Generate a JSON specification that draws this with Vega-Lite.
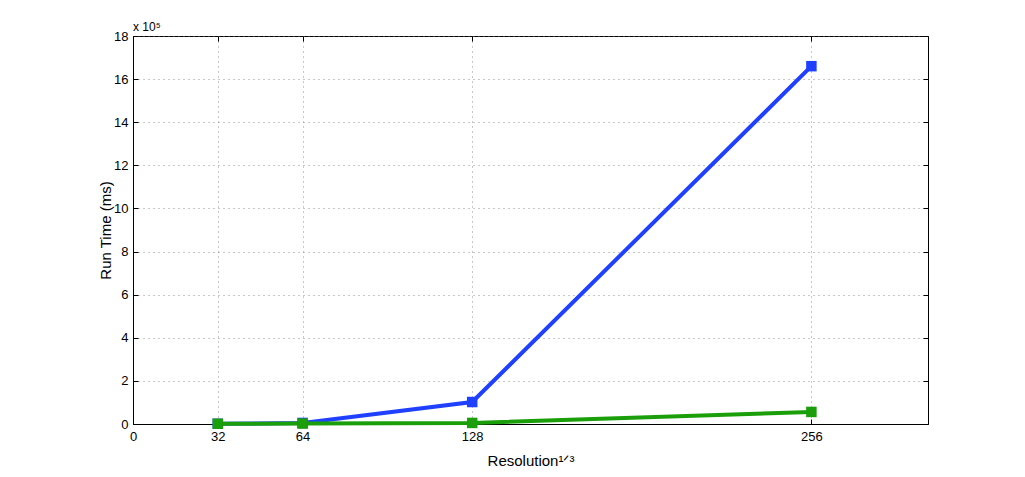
{
  "$schema": "https://vega.github.io/schema/vega-lite/v6.json",
  "autosize": "none",
  "width": 795,
  "height": 388,
  "padding": {"left": 133, "top": 36, "right": 97, "bottom": 53},
  "background": "white",
  "config": {
    "font": "Liberation Sans",
    "view": {"stroke": "black", "strokeWidth": 1},
    "axis": {
      "domainColor": "black",
      "tickColor": "black",
      "labelColor": "black",
      "titleColor": "black",
      "labelFontSize": 13,
      "titleFontSize": 15,
      "titleFontWeight": "normal",
      "gridColor": "#777",
      "gridDash": [1, 4],
      "gridOpacity": 0.8,
      "tickSize": -5
    }
  },
  "title": {"text": "x 10⁵", "anchor": "start", "frame": "group", "fontSize": 12, "fontWeight": "normal", "offset": -4, "font": "Liberation Sans"},
  "data": {
    "values": [
      {"res": 32, "time": 0.01, "series": "A"},
      {"res": 64, "time": 0.05, "series": "A"},
      {"res": 128, "time": 1.02, "series": "A"},
      {"res": 256, "time": 16.6, "series": "A"},
      {"res": 32, "time": 0.01, "series": "B"},
      {"res": 64, "time": 0.02, "series": "B"},
      {"res": 128, "time": 0.05, "series": "B"},
      {"res": 256, "time": 0.56, "series": "B"}
    ]
  },
  "layer": [
    {
      "mark": {"type": "line", "strokeWidth": 4, "point": {"shape": "square", "size": 110, "filled": true, "opacity": 1}},
      "encoding": {
        "x": {
          "field": "res", "type": "quantitative",
          "scale": {"domain": [0, 300], "nice": false, "zero": true},
          "axis": {"values": [0, 32, 64, 128, 256], "title": "Resolution¹ᐟ³", "labelPadding": 11, "titlePadding": 10, "labelFlush": false}
        },
        "y": {
          "field": "time", "type": "quantitative",
          "scale": {"domain": [0, 18], "nice": false},
          "axis": {"values": [0, 2, 4, 6, 8, 10, 12, 14, 16, 18], "title": "Run Time (ms)", "labelPadding": 10, "titlePadding": 0}
        },
        "color": {
          "field": "series", "type": "nominal",
          "scale": {"domain": ["A", "B"], "range": ["#2040ff", "#1a9e0a"]},
          "legend": null
        }
      }
    },
    {
      "mark": {"type": "point", "opacity": 0},
      "encoding": {
        "x": {
          "field": "res", "type": "quantitative",
          "scale": {"domain": [0, 300], "nice": false},
          "axis": {"orient": "top", "values": [0, 32, 64, 128, 256], "labels": false, "title": null, "grid": false, "domain": false}
        },
        "y": {
          "field": "time", "type": "quantitative",
          "scale": {"domain": [0, 18], "nice": false},
          "axis": {"orient": "right", "values": [0, 2, 4, 6, 8, 10, 12, 14, 16, 18], "labels": false, "title": null, "grid": false, "domain": false}
        }
      }
    }
  ],
  "resolve": {"axis": {"x": "independent", "y": "independent"}}
}
